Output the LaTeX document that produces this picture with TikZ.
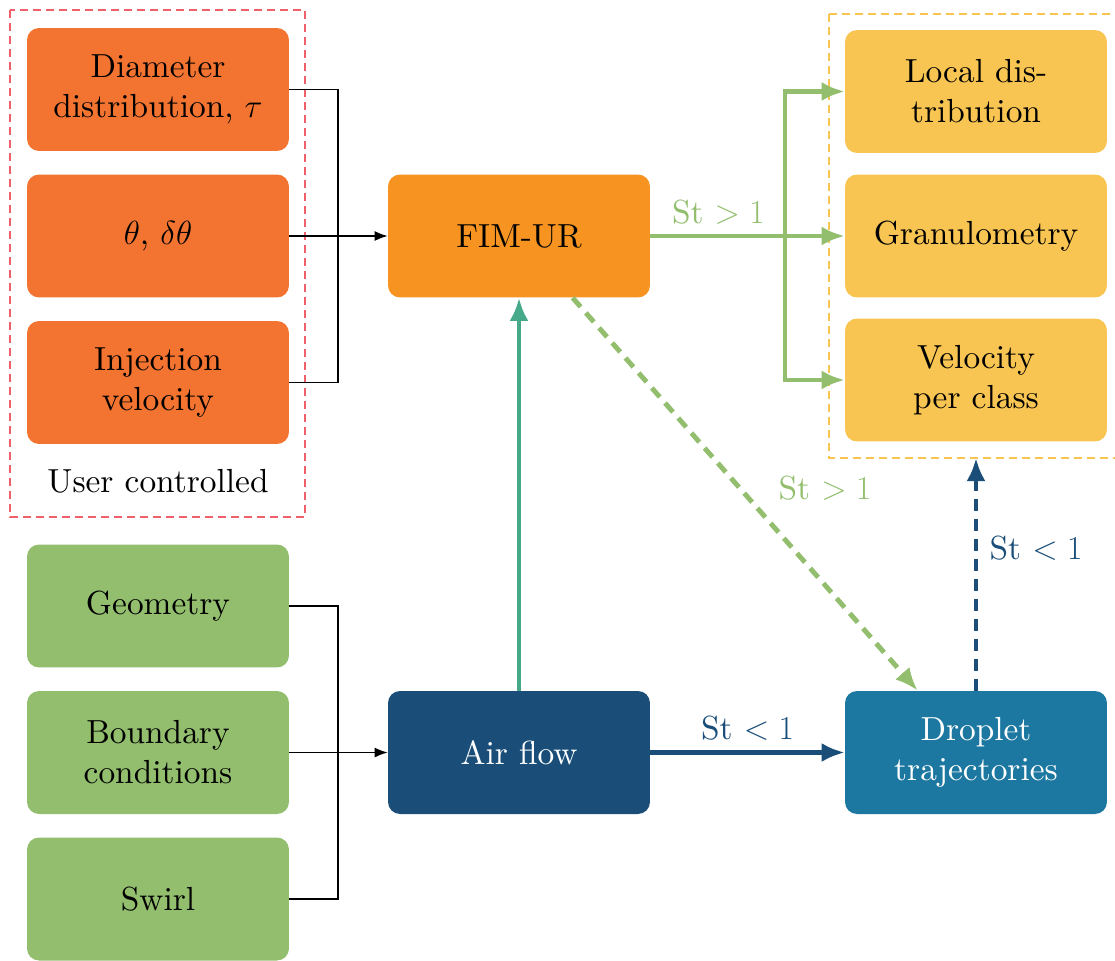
\RequirePackage{fix-cm}
\documentclass[tikz,border=0pt]{standalone}
\usepackage{fontspec}
\setmainfont{lmroman10-regular.otf}[ItalicFont=lmroman10-italic.otf, BoldFont=lmroman10-bold.otf]
\usetikzlibrary{arrows.meta,calc}
\definecolor{cOrange}{RGB}{243,116,48}
\definecolor{cFim}{RGB}{247,148,33}
\definecolor{cGreen}{RGB}{146,190,110}
\definecolor{cNavy}{RGB}{26,78,120}
\definecolor{cBlue}{RGB}{28,120,160}
\definecolor{cYellow}{RGB}{248,197,82}
\definecolor{cTeal}{RGB}{69,169,138}
\definecolor{cRed}{RGB}{240,96,106}
\tikzset{
  txt/.style={font=\fontsize{19}{22.8}\selectfont},
  box/.style={txt, rounded corners=0.24cm, minimum width=5.24cm, minimum height=2.46cm, align=center, inner sep=0pt},
  obox/.style={box, fill=cOrange},
  gbox/.style={box, fill=cGreen},
  ybox/.style={box, fill=cYellow},
  thinarr/.style={line width=0.8pt, -{Latex[length=0.26cm,width=0.2cm]}},
  thinline/.style={line width=0.8pt},
  bigarr/.style={line width=2.8pt, -{Latex[length=0.46cm,width=0.38cm]}},
  dashgroup/.style={line width=0.7pt, dash pattern=on 0.16cm off 0.1cm},
  bigdash/.style={dash pattern=on 0.24cm off 0.16cm},
}
\begin{document}
\begin{tikzpicture}[x=0.02cm,y=-0.02cm]
\useasboundingbox (0,0) rectangle (1115,960);
\clip (0,0) rectangle (1115,960);
% group frames
\coordinate (rA) at (10,10);
\coordinate (rB) at (305,517);
\draw[dashgroup, cRed] (rA) rectangle (rB);
\coordinate (yA) at (829,14);
\coordinate (yB) at (1130,458);
\draw[dashgroup, cYellow] (yA) rectangle (yB);
% nodes
\node[obox] (o1) at (158,89.5) {Diameter\\distribution, $\tau$};
\node[obox] (o2) at (158,236) {$\theta$, $\delta\theta$};
\node[obox] (o3) at (158,382.5) {Injection\\velocity};
\node[txt] (uc) at (158,481) {User controlled};
\node[box, fill=cFim] (fim) at (519,236) {FIM-UR};
\node[gbox] (g1) at (158,606) {Geometry};
\node[gbox] (g2) at (158,752.5) {Boundary\\conditions};
\node[gbox] (g3) at (158,899) {Swirl};
\node[box, fill=cNavy, text=white] (air) at (519,752.5) {Air flow};
\node[box, fill=cBlue, text=white] (drop) at (976,752.5) {Droplet\\trajectories};
\node[ybox] (y1) at (976,91.5) {Local dis-\\tribution};
\node[ybox] (y2) at (976,236) {Granulometry};
\node[ybox] (y3) at (976,380) {Velocity\\per class};
% user inputs
\coordinate (jo) at (338,236);
\draw[thinline] (o1.east) -| (jo);
\draw[thinline] (o3.east) -| (jo);
\draw[thinarr] (o2.east) -- (fim.west);
% geometry inputs
\coordinate (jg) at (338,752.5);
\draw[thinline] (g1.east) -| (jg);
\draw[thinline] (g3.east) -| (jg);
\draw[thinarr] (g2.east) -- (air.west);
% FIM outputs
\coordinate (br) at (785,236);
\draw[bigarr, cGreen] (fim.east) -- node[txt, above, yshift=2pt, pos=0.35] {St $>1$} (y2.west);
\draw[bigarr, cGreen] (br) |- (y1.west);
\draw[bigarr, cGreen] (br) |- (y3.west);
% dashed green
\coordinate (fs) at ($(fim.south west)+(185,0)$);
\coordinate (dn) at ($(drop.north west)+(73,0)$);
\draw[bigarr, bigdash, cGreen] (fs) -- (dn);
\node[txt, text=cGreen] (l2) at (825,488) {St $>1$};
% air flow
\draw[bigarr, cTeal] (air.north) -- (fim.south);
\draw[bigarr, cNavy] (air.east) -- node[txt, above, yshift=2pt] {St $<1$} (drop.west);
\coordinate (yb) at (976,458);
\draw[bigarr, bigdash, cNavy] (drop.north) -- (yb);
\node[txt, text=cNavy] (l4) at (1036,548) {St $<1$};
\end{tikzpicture}
\end{document}
